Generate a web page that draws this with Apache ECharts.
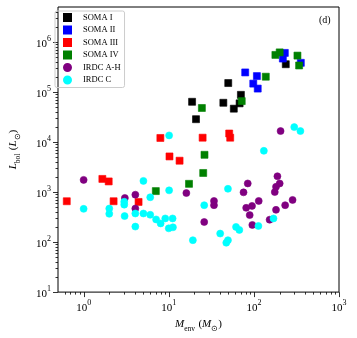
<!DOCTYPE html>
<html>
<head>
<meta charset="utf-8">
<script src="https://cdn.jsdelivr.net/npm/echarts@6/dist/echarts.min.js"></script>
<style>
  html, body { margin: 0; padding: 0; background: #fff; }
  #chart { width: 357px; height: 338px; }
</style>
</head>
<body>
<div id="chart"></div>
<script>
// [Menv (Msun), Lbol (Lsun)]
const somaI = [[18.8, 63700], [20.9, 28600], [43.8, 60900], [50, 151000], [58.1, 46400],
  [68, 59300], [70.4, 87700], [237, 359000]]
const somaII = [[79.1, 246000], [108.5, 208000], [98.4, 147000], [111, 117000],
  [231, 604000], [219, 466000], [356, 383000]]
const somaIII = [[0.634, 655], [1.66, 1830], [1.97, 1630], [2.25, 655], [4.42, 634],
  [7.97, 12050], [10.2, 5150], [13.4, 4230], [25, 12200], [51.3, 14800], [52.7, 12200]]
const somaIV = [[7.05, 1045], [17.3, 1459], [25.4, 2405], [26.3, 5550], [24.5, 47900],
  [72, 65700], [138, 202000], [179, 551000], [201, 619000], [325, 534000], [340, 339000]]
const irdcAH = [[1.0, 1750], [3.05, 761], [4.05, 885], [4.05, 468], [16.1, 955], [26.1, 252],
  [34, 664], [34, 546], [75.6, 986], [84.7, 1486], [81.2, 483], [95.1, 529], [89.3, 346],
  [95.9, 220], [114, 664], [189, 2070], [201, 1486], [182, 1273], [176, 1000], [285, 695],
  [233, 546], [182, 441], [153, 280], [206, 16560]]
const irdcC = [[1.0, 461], [2.0, 468], [2.0, 367], [3.0, 640], [3.0, 560], [3.03, 331],
  [4.05, 373], [4.05, 204], [5.04, 1670], [5.04, 373], [6.06, 786], [6.06, 351], [7.1, 284],
  [8.03, 236], [9.1, 297], [11.1, 297], [10, 188], [11.2, 197], [10.1, 1080], [10.1, 13560],
  [19.2, 109], [26.1, 546], [40.2, 148], [49.6, 109], [47.4, 97], [49.6, 1162], [61.7, 201],
  [67.5, 175], [113, 210], [170, 297], [131, 6670], [298, 19860], [352, 16560]]

const groups = [
  { name: 'SOMA I', data: somaI, color: '#000000', symbol: 'rect' },
  { name: 'SOMA II', data: somaII, color: '#0000ff', symbol: 'rect' },
  { name: 'SOMA III', data: somaIII, color: '#ff0000', symbol: 'rect' },
  { name: 'SOMA IV', data: somaIV, color: '#008000', symbol: 'rect' },
  { name: 'IRDC A-H', data: irdcAH, color: '#800080', symbol: 'circle' },
  { name: 'IRDC C', data: irdcC, color: '#00ffff', symbol: 'circle' }
]

const xRange = [0.5, 1000]
const yRange = [10, 5e6]

const serif = 'Liberation Serif'
const chart = echarts.init(document.getElementById('chart'), null, { renderer: 'canvas' })

function powLabel(v) {
  const e = Math.log10(v)
  if (Math.abs(e - Math.round(e)) > 1e-6) return ''
  return '{b|10}{e|' + Math.round(e) + '}'
}

const powRich = {
  b: { fontFamily: serif, fontSize: 11, color: '#000', lineHeight: 15, verticalAlign: 'bottom' },
  e: { fontFamily: serif, fontSize: 8, color: '#000', lineHeight: 15, verticalAlign: 'top' }
}

chart.setOption({
  animation: false,
  grid: { left: 51, right: 18, top: 7, bottom: 42, show: true, borderColor: '#000', borderWidth: 1 },
  legend: {
    orient: 'vertical',
    left: 55,
    top: 11,
    padding: [2, 4, 3, 8],
    itemGap: 3.5,
    itemWidth: 7,
    itemHeight: 7,
    borderColor: '#ccc',
    borderWidth: 1,
    borderRadius: 2,
    textStyle: { fontFamily: serif, fontSize: 8.5, color: '#000', lineHeight: 9, padding: [0, 0, 0, 7] },
    data: groups.map(g => ({ name: g.name, icon: g.symbol }))
  },
  xAxis: {
    type: 'log',
    min: xRange[0],
    max: xRange[1],
    name: '{i|M}{s|env} {n|(}{i|M}{s|⊙}{n|)}',
    nameLocation: 'middle',
    nameGap: 19,
    nameTextStyle: {
      rich: {
        i: { fontFamily: serif, fontStyle: 'italic', fontSize: 11, color: '#000', lineHeight: 14, verticalAlign: 'top' },
        n: { fontFamily: serif, fontSize: 11, color: '#000', lineHeight: 14, verticalAlign: 'top' },
        s: { fontFamily: serif, fontSize: 7.5, color: '#000', lineHeight: 14, verticalAlign: 'bottom' }
      }
    },
    axisLine: { show: false },
    axisTick: { show: false },
    splitLine: { show: false },
    axisLabel: { margin: 7, formatter: powLabel, rich: powRich }
  },
  yAxis: {
    type: 'log',
    min: yRange[0],
    max: yRange[1],
    name: '{i|L}{s|bol} {n|(}{i|L}{s|⊙}{n|)}',
    nameLocation: 'middle',
    nameGap: 36,
    nameTextStyle: {
      rich: {
        i: { fontFamily: serif, fontStyle: 'italic', fontSize: 11, color: '#000', lineHeight: 14, verticalAlign: 'top' },
        n: { fontFamily: serif, fontSize: 11, color: '#000', lineHeight: 14, verticalAlign: 'top' },
        s: { fontFamily: serif, fontSize: 7.5, color: '#000', lineHeight: 14, verticalAlign: 'bottom' }
      }
    },
    axisLine: { show: false },
    axisTick: { show: false },
    splitLine: { show: false },
    axisLabel: { margin: 7, formatter: powLabel, rich: powRich }
  },
  series: groups.map(g => ({
    name: g.name,
    type: 'scatter',
    symbol: g.symbol,
    symbolSize: 7,
    data: g.data,
    itemStyle: { color: g.color, opacity: 1, borderColor: g.color, borderWidth: 0.6 }
  }))
})

// matplotlib-style log ticks (major + minor), drawn outside the frame
function drawTicks() {
  const els = []
  const bottom = chart.convertToPixel({ yAxisIndex: 0 }, yRange[0])
  const left = chart.convertToPixel({ xAxisIndex: 0 }, xRange[0])
  for (let d = -1; d <= 3; d++) {
    for (let k = 1; k <= 9; k++) {
      const v = k * Math.pow(10, d)
      if (v <= xRange[0] * 1.0001 || v > xRange[1] * 1.0001) continue
      const px = Math.round(chart.convertToPixel({ xAxisIndex: 0 }, v)) + 0.5
      const len = k === 1 ? 5 : 2.5
      els.push({ type: 'line', shape: { x1: px, y1: bottom, x2: px, y2: bottom + len },
        style: { stroke: '#000', lineWidth: 0.8 }, silent: true })
    }
  }
  for (let d = 1; d <= 6; d++) {
    for (let k = 1; k <= 9; k++) {
      const v = k * Math.pow(10, d)
      if (v < yRange[0] * 0.9999 || v >= yRange[1] * 0.9999) continue
      const py = Math.round(chart.convertToPixel({ yAxisIndex: 0 }, v)) + 0.5
      const len = k === 1 ? 5 : 2.5
      els.push({ type: 'line', shape: { x1: left, y1: py, x2: left - len, y2: py },
        style: { stroke: '#000', lineWidth: 0.8 }, silent: true })
    }
  }
  els.push({ type: 'text', left: 319, top: 15,
    style: { text: '(d)', fontFamily: serif, fontSize: 10, fill: '#000' } })
  chart.setOption({ graphic: els })
}
drawTicks()
</script>
</body>
</html>
